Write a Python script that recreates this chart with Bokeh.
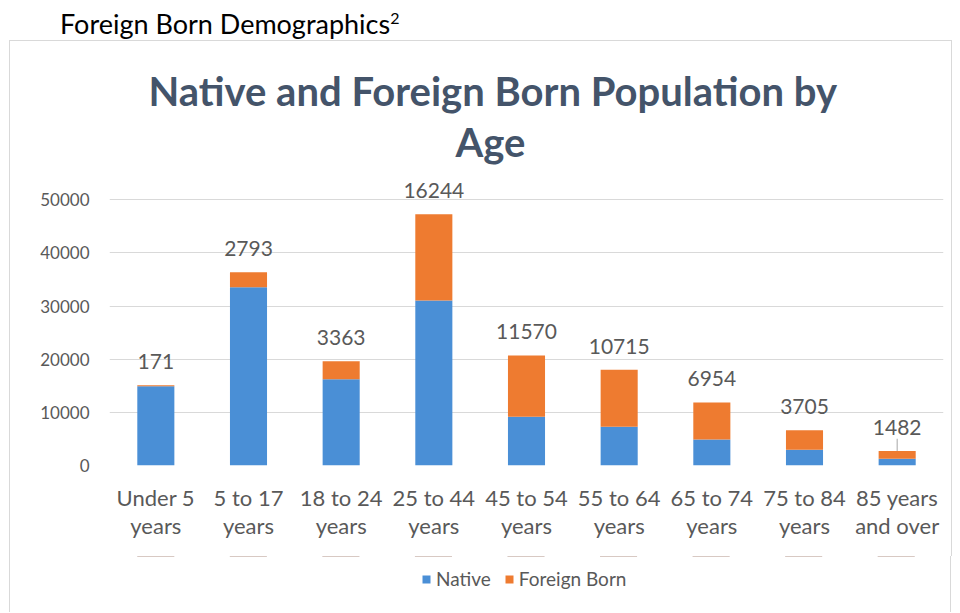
from bokeh.plotting import figure
from bokeh.models import (ColumnDataSource, FixedTicker, LabelSet, Legend, LegendItem,
                          Range1d, Title, Div)
from bokeh.layouts import column
from bokeh.core.properties import value
from bokeh.embed import file_html
from bokeh.resources import INLINE

# ---- data ----
categories = ["Under 5\nyears", "5 to 17\nyears", "18 to 24\nyears", "25 to 44\nyears",
              "45 to 54\nyears", "55 to 64\nyears", "65 to 74\nyears", "75 to 84\nyears",
              "85 years\nand over"]
native = [14930, 33550, 16250, 31050, 9150, 7300, 4900, 2950, 1250]
foreign_born = [171, 2793, 3363, 16244, 11570, 10715, 6954, 3705, 1482]
y_ticks = [0, 10000, 20000, 30000, 40000, 50000]
series_names = ["Native", "Foreign Born"]

BLUE = "#4A8FD6"
ORANGE = "#EE7B30"
GRAY_TEXT = "#595959"
GRID = "#D9D9D9"
TITLE_COLOR = "#44546A"
FONT = "Lato"
BORDER = "1px solid #D9D9D9"

totals = [n + f for n, f in zip(native, foreign_born)]
src = ColumnDataSource(dict(cat=categories, native=native, foreign=foreign_born,
                            total=totals, label=[str(v) for v in foreign_born]))

# ---------------- main chart ----------------
p = figure(x_range=categories, y_range=Range1d(0, 54000),
           frame_width=832, frame_height=286,
           output_backend="svg", toolbar_location=None, title=None,
           min_border_left=99, min_border_right=10,
           min_border_top=137, min_border_bottom=92,
           margin=(0, 0, 0, 9),
           styles={"border-top": BORDER, "border-left": BORDER, "border-right": BORDER})
p.outline_line_color = None
p.background_fill_color = "white"
p.border_fill_color = "white"

rs = p.vbar_stack(["native", "foreign"], x="cat", width=0.4, color=[BLUE, ORANGE],
                  line_color=None, source=src)

p.yaxis.ticker = FixedTicker(ticks=y_ticks)
p.yaxis.axis_line_color = None
p.yaxis.major_tick_line_color = None
p.yaxis.minor_tick_line_color = None
p.yaxis.major_tick_out = 0
p.yaxis.major_label_standoff = 20
p.yaxis.major_label_text_font = FONT
p.yaxis.major_label_text_font_size = "17px"
p.yaxis.major_label_text_color = GRAY_TEXT
p.yaxis.formatter.use_scientific = False

p.xaxis.axis_line_color = None
p.xaxis.major_tick_line_color = None
p.xaxis.major_tick_out = 0
p.xaxis.major_label_standoff = 18
p.xaxis.major_label_text_font = FONT
p.xaxis.major_label_text_font_size = "22px"
p.xaxis.major_label_text_color = GRAY_TEXT
p.xaxis.major_label_text_line_height = 1.07

p.xgrid.grid_line_color = None
p.ygrid.grid_line_color = GRID
p.ygrid.grid_line_width = 1.2

# data labels (foreign born values above the stacks)
labels = LabelSet(x="cat", y="total", text="label", source=src, y_offset=16,
                  text_align="center", text_baseline="bottom",
                  text_font=value(FONT), text_font_size=value("21px"), text_color=GRAY_TEXT)
p.add_layout(labels)

# leader line for the last bar
leader_src = ColumnDataSource(dict(x=[categories[-1]], y0=[totals[-1]], y1=[totals[-1] + 2300]))
p.segment(x0="x", y0="y0", x1="x", y1="y1", source=leader_src, line_color="#A6A6A6", line_width=1)

# chart title (inner line first)
p.add_layout(Title(text="Age", align="left", offset=346, text_font=FONT,
                   text_font_size="40px", text_font_style="bold", text_color=TITLE_COLOR,
                   standoff=26), "above")
p.add_layout(Title(text="Native and Foreign Born Population by", align="left", offset=39,
                   text_font=FONT, text_font_size="40px", text_font_style="bold",
                   text_color=TITLE_COLOR, standoff=-25), "above")

# ---------------- legend strip (inside the same box) ----------------
lg = figure(x_range=categories, y_range=Range1d(-1000000, -999000), width=942, height=56,
            output_backend="svg", toolbar_location=None, title=None,
            x_axis_location=None, y_axis_location=None,
            min_border=0, margin=(0, 0, 0, 9),
            styles={"border-left": BORDER, "border-right": BORDER})
lg.outline_line_color = None
lg.xgrid.grid_line_color = None
lg.ygrid.grid_line_color = None
lg.background_fill_color = "white"
lg.border_fill_color = "white"
lr = lg.vbar_stack(["native", "foreign"], x="cat", width=0.4, color=[BLUE, ORANGE],
                   line_color=None, source=src)
legend = Legend(items=[LegendItem(label=series_names[0], renderers=[lr[0]]),
                       LegendItem(label=series_names[1], renderers=[lr[1]])],
                orientation="horizontal", location=(312, 22),
                glyph_width=10, glyph_height=10, label_standoff=5, spacing=13,
                padding=0, margin=0, border_line_color=None, background_fill_alpha=0,
                label_text_font=FONT, label_text_font_size="19px", label_text_color=GRAY_TEXT)
lg.add_layout(legend, "center")

# ---------------- page header ----------------
header = Div(text='<div style="padding-left:60px; padding-top:8px; font-family:Lato; '
                  'font-size:27px; color:#000; line-height:32px; white-space:nowrap">'
                  'Foreign Born Demographics<sup style="font-size:16px; line-height:0">2</sup></div>',
             width=700, height=40, margin=(0, 0, 0, 0))

layout = column(header, p, lg, spacing=0)
open("out.html", "w").write(file_html(layout, INLINE))
